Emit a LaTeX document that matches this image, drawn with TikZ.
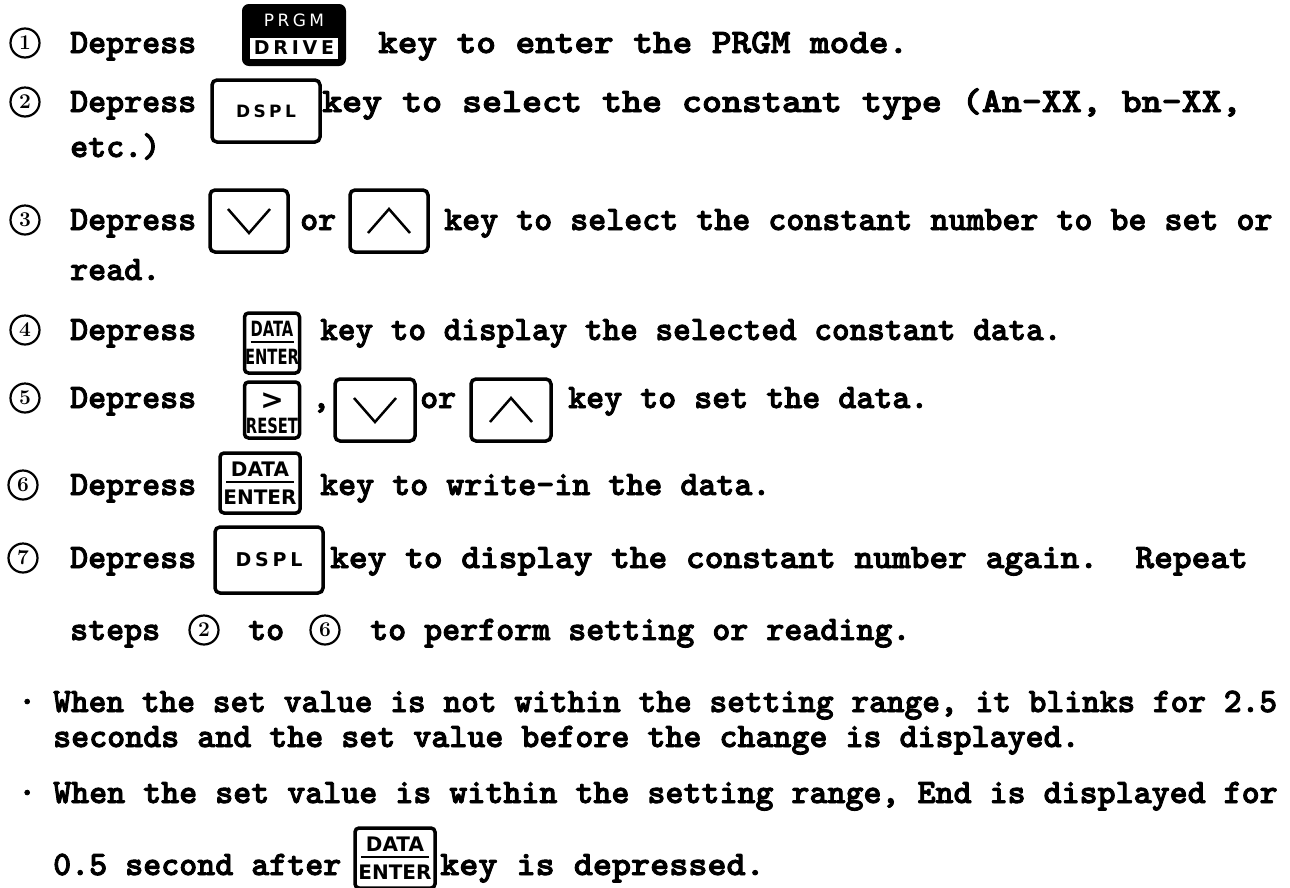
\documentclass[tikz,border=0pt]{standalone}
\usepackage{fontspec}
\newfontfamily\typefont{lmmonolt10-bold.otf}[FakeBold=2.5]
\newfontfamily\keyfont{DejaVu Sans}
\newfontfamily\narrowfont{DejaVu Sans}[FakeStretch=0.7]
\newfontfamily\spacedfont{DejaVu Sans}[LetterSpace=20]
\usetikzlibrary{positioning}

\tikzstyle{word} = [inner sep=0, anchor=base west, font=\typefont\fontsize{34.3}{34.3}\selectfont]
\tikzstyle{stepnum} = [circle, draw, line width=2.2, minimum size=29, inner sep=0, font=\rmfamily\bfseries\fontsize{21}{21}\selectfont]
\tikzstyle{keybox} = [draw, line width=3.5, rounded corners=5, minimum width=78, minimum height=62, inner sep=0]
\tikzstyle{smallkey} = [draw, line width=3.5, rounded corners=4, minimum width=55, minimum height=60, inner sep=0]
\tikzstyle{keytext} = [inner sep=0, anchor=base]
\tikzstyle{chevron} = [line width=2.5]

% DATA/ENTER key: name, position, width, font
\newcommand{\enterkey}[4]{%
  \node[smallkey, minimum width=#3] (#1) at (#2) {};
  \node[keytext, font=#4] at ([shift={(0,-7)}]#1.center) {DATA};
  \draw[line width=1.8] ([shift={(-#3/2+6,-1)}]#1.center) -- ([shift={(#3/2-6,-1)}]#1.center);
  \node[keytext, font=#4] at ([shift={(0,21)}]#1.center) {ENTER};
}
% arrow keys: name, position, width
\newcommand{\downkey}[3]{%
  \node[keybox, minimum width=#3] (#1) at (#2) {};
  \draw[chevron] ([shift={(-21,-12)}]#1.center) -- ([shift={(0,12)}]#1.center) -- ([shift={(21,-12)}]#1.center);
}
\newcommand{\upkey}[3]{%
  \node[keybox, minimum width=#3] (#1) at (#2) {};
  \draw[chevron] ([shift={(-21,12)}]#1.center) -- ([shift={(0,-12)}]#1.center) -- ([shift={(21,12)}]#1.center);
}

\begin{document}
\begin{tikzpicture}[x=1pt, y=-1pt]
        \useasboundingbox[fill=white] (0,0) rectangle (1290,887);

        % step 1
        \node[stepnum] (n1) at (25,43) {1};
        \node[word] (dep1) at (70,53) {Depress};
        \node[draw, fill=black, line width=2, rounded corners=6, minimum width=102, minimum height=60] (prgm) at (294,35) {};
        \node[fill=white, minimum width=88, minimum height=21, inner sep=0, font=\spacedfont\bfseries\fontsize{19}{19}\selectfont] (drive) at (294,48) {DRIVE};
        \node[text=white, inner sep=0, font=\spacedfont\fontsize{17}{17}\selectfont] (prgmtxt) at (294,20) {PRGM};
        \node[word] (txt1) at (378,53) {\scalebox{1.09}[1]{key to enter the PRGM mode.}};

        % step 2
        \node[stepnum] (n2) at (25,102) {2};
        \node[word] (dep2) at (70,112) {Depress};
        \node[keybox, minimum width=108, font=\spacedfont\bfseries\fontsize{17}{17}\selectfont] (dspl2) at (266,111) {DSPL};
        \node[word] (txt2) at (322,112) {\scalebox{1.11}[1]{key to select the constant type (An-XX, bn-XX,}};
        \node[word] (etc2) at (70,157) {etc.)};

        % step 3
        \node[stepnum] (n3) at (25,220) {3};
        \node[word] (dep3) at (70,230) {Depress};
        \downkey{down3}{249,221}{78}
        \node[word] (or3) at (300,230) {or};
        \upkey{up3}{389,221}{78}
        \node[word] (txt3) at (444,230) {key to select the constant number to be set or};
        \node[word] (read3) at (70,280) {read.};

        % step 4
        \node[stepnum] (n4) at (25,330) {4};
        \node[word] (dep4) at (70,340) {Depress};
        \enterkey{enter4}{272,343}{55}{\narrowfont\bfseries\fontsize{21}{21}\selectfont}
        \node[word] (txt4) at (320,340) {\scalebox{0.98}[1]{key to display the selected constant data.}};

        % step 5
        \node[stepnum] (n5) at (25,398) {5};
        \node[word] (dep5) at (70,408) {Depress};
        \node[smallkey, minimum height=56] (reset5) at (272,410) {};
        \node[keytext, font=\keyfont\bfseries\fontsize{28}{28}\selectfont] (gt5) at ([shift={(0,-1)}]reset5.center) {>};
        \node[keytext, font=\narrowfont\bfseries\fontsize{21}{21}\selectfont] (rst5) at ([shift={(0,23)}]reset5.center) {RESET};
        \node[word] (comma5) at (312,408) {,};
        \downkey{down5}{375,410}{80}
        \node[word] (or5) at (420,408) {or};
        \upkey{up5}{511,410}{80}
        \node[word] (txt5) at (568,408) {key to set the data.};

        % step 6
        \node[stepnum] (n6) at (23,485) {6};
        \node[word] (dep6) at (70,495) {Depress};
        \enterkey{enter6}{260,483}{80}{\keyfont\bfseries\fontsize{20}{20}\selectfont}
        \node[word] (txt6) at (320,495) {key to write-in the data.};

        % step 7
        \node[stepnum] (n7) at (23,558) {7};
        \node[word] (dep7) at (70,568) {Depress};
        \node[keybox, minimum width=108, minimum height=66, font=\spacedfont\bfseries\fontsize{19}{19}\selectfont] (dspl7) at (269,560) {DSPL};
        \node[word] (txt7) at (330,568) {\scalebox{1.04}[1]{key to display the constant number again.~~Repeat}};

        \node[word] (steps) at (70,640) {steps};
        \node[stepnum] (from2) at (204,630) {2};
        \node[word] (to) at (248,640) {to};
        \node[stepnum] (to6) at (325,630) {6};
        \node[word] (txt8) at (370,640) {to perform setting or reading.};

        % notes
        \node[word] (dot1) at (18,712) {·};
        \node[word] (note1) at (53,712) {\scalebox{0.985}[1]{When the set value is not within the setting range, it blinks for 2.5}};
        \node[word] (note1b) at (53,747) {seconds and the set value before the change is displayed.};
        \node[word] (dot2) at (18,803) {·};
        \node[word] (note2) at (53,803) {When the set value is within the setting range, End is displayed for};
        \node[word] (note2b) at (53,875) {0.5 second after};
        \enterkey{enter9}{395,858}{80}{\keyfont\bfseries\fontsize{20}{20}\selectfont}
        \node[word] (note2c) at (440,875) {\scalebox{1.06}[1]{key is depressed.}};
    \end{tikzpicture}
\end{document}
